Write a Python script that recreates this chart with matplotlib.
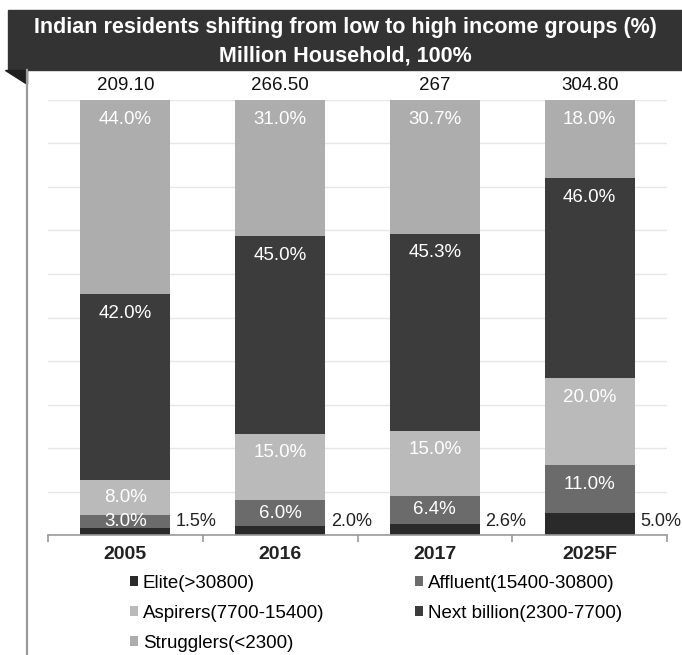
import numpy as np
import matplotlib
matplotlib.use("Agg")
import matplotlib.pyplot as plt
from matplotlib.patches import Rectangle, Polygon
from matplotlib.lines import Line2D

plt.rcParams['font.family'] = ['Liberation Sans', 'DejaVu Sans']

years = ['2005', '2016', '2017', '2025F']
totals = ['209.10', '266.50', '267', '304.80']
groups = ['Elite(>30800)', 'Affluent(15400-30800)', 'Aspirers(7700-15400)',
          'Next billion(2300-7700)', 'Strugglers(<2300)']
elite = [1.5, 2.0, 2.6, 5.0]
affluent = [3.0, 6.0, 6.4, 11.0]
aspirers = [8.0, 15.0, 15.0, 20.0]
next_billion = [42.0, 45.0, 45.3, 46.0]
strugglers = [44.0, 31.0, 30.7, 18.0]
colors = ['#2a2a2a', '#6b6b6b', '#bababa', '#3c3c3c', '#adadad']

W, H = 682, 655
fig = plt.figure(figsize=(W / 100, H / 100), dpi=100)

def fx(px):
    return px / W

def fy(py):
    return 1 - py / H

# banner + fold + left frame line
fig.patches.append(Rectangle((fx(8), fy(70)), fx(682) - fx(8), fy(10) - fy(70),
                             transform=fig.transFigure, color='#333333', zorder=0))
fig.patches.append(Polygon([(fx(5), fy(70)), (fx(27), fy(70)), (fx(27), fy(84))],
                           closed=True, transform=fig.transFigure, color='#1e1e1e'))
fig.lines.append(Line2D([fx(27), fx(27)], [fy(70), 0], transform=fig.transFigure,
                        color='#9a9a9a', lw=1.6))
fig.text(fx(345), fy(28), 'Indian residents shifting from low to high income groups (%)',
         ha='center', va='center', color='white', fontsize=15.5, fontweight='bold')
fig.text(fx(345), fy(56), 'Million Household, 100%',
         ha='center', va='center', color='white', fontsize=15.5, fontweight='bold')

ax = fig.add_axes([fx(48), fy(535), fx(667) - fx(48), fy(100) - fy(535)])
series = [elite, affluent, aspirers, next_billion, strugglers]
data = np.array(series)
pct = data / data.sum(axis=0) * 100
x = np.arange(len(years))
width = 0.58
bottom = np.zeros(len(years))
px_per_unit = 435 / 100
fs = 13.5
handles = []
for i, (name, col) in enumerate(zip(groups, colors)):
    h = ax.bar(x, pct[i], width, bottom=bottom, color=col, label=name, zorder=2)
    handles.append(h)
    if i > 0:
        for j in range(len(years)):
            top = bottom[j] + pct[i][j]
            off = min(19 / px_per_unit, pct[i][j] / 2)
            ax.text(x[j], top - off, f'{series[i][j]:.1f}%', ha='center', va='center',
                    color='white', fontsize=fs, zorder=3)
    else:
        for j in range(len(years)):
            ax.text(x[j] + 0.46, 3.0, f'{series[i][j]:.1f}%', ha='center',
                    va='center', color='#222222', fontsize=13, zorder=3)
    bottom += pct[i]

for j in range(len(years)):
    ax.text(x[j], 100 + 15 / px_per_unit, totals[j], ha='center', va='center',
            color='#111111', fontsize=fs)

ax.set_xlim(-0.5, 3.5)
ax.set_ylim(0, 100)
for g in range(10, 101, 10):
    ax.axhline(g, color='#e6e6e6', lw=1, zorder=1)
for s in ['top', 'right', 'left']:
    ax.spines[s].set_visible(False)
ax.spines['bottom'].set_color('#999999')
ax.spines['bottom'].set_linewidth(1.2)
ax.set_yticks([])
ax.set_xticks(x)
ax.set_xticklabels(years, fontsize=14, fontweight='bold', color='#222222')
ax.tick_params(axis='x', which='major', length=0, pad=8)
ax.set_xticks(np.arange(-0.5, 4, 1), minor=True)
ax.tick_params(axis='x', which='minor', length=5, color='#999999', width=1.2)

order = [0, 2, 4, 1, 3]
fig.legend([handles[k] for k in order], [groups[k] for k in order], ncol=2,
           loc='upper left', bbox_to_anchor=(fx(113), fy(558)), frameon=False,
           fontsize=fs, handlelength=0.45, handleheight=0.45, handletextpad=0.25,
           columnspacing=4.8, labelspacing=0.7)

fig.savefig('out.png', dpi=100)
